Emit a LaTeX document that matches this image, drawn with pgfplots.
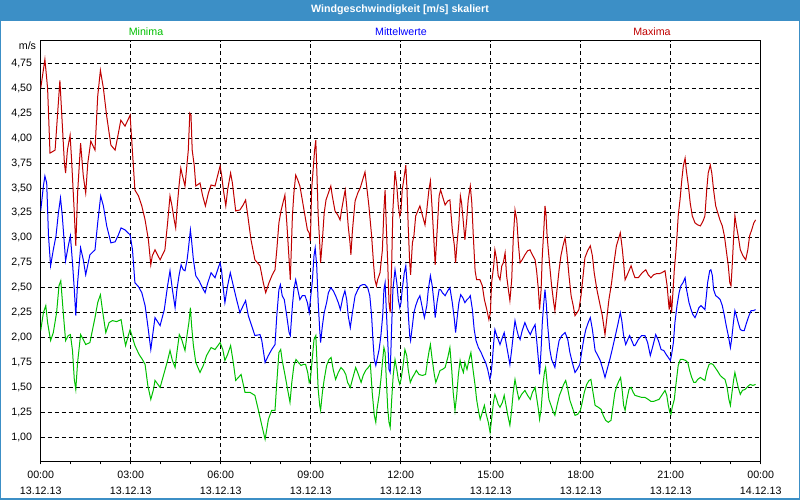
\documentclass[border=0pt]{standalone}
\usepackage{fontspec}
\setmainfont{Liberation Sans}
\usepackage{pgfplots}
\pgfplotsset{compat=1.18}
\usepackage{pgfplotstable}

\definecolor{titleblue}{HTML}{3C8FC6}
\definecolor{maxred}{HTML}{C00000}
\definecolor{mitblue}{HTML}{0000FF}
\definecolor{mingreen}{HTML}{00C000}

% Stunde  Wert
\pgfplotstableread{
h v
0.00 4.50
0.14 4.79
0.23 4.50
0.31 3.85
0.48 3.88
0.64 4.58
0.79 3.75
0.83 3.65
0.89 3.88
0.98 4.03
1.03 3.78
1.12 3.25
1.17 2.92
1.23 3.45
1.33 3.95
1.42 3.62
1.50 3.45
1.57 3.75
1.67 3.97
1.81 3.88
1.90 4.42
1.99 4.68
2.09 4.50
2.20 4.22
2.34 3.93
2.48 3.88
2.59 4.05
2.67 4.18
2.81 4.12
2.98 4.23
3.03 4.00
3.14 3.48
3.26 3.42
3.37 3.32
3.48 3.18
3.59 2.98
3.67 2.73
3.72 2.82
3.81 2.88
3.98 2.78
4.14 2.88
4.23 3.15
4.31 3.42
4.37 3.33
4.45 3.18
4.50 3.10
4.54 3.28
4.61 3.52
4.67 3.70
4.72 3.63
4.81 3.52
4.88 3.75
4.92 3.88
4.97 4.25
5.01 4.23
5.05 3.88
5.12 3.72
5.17 3.52
5.31 3.55
5.40 3.42
5.49 3.32
5.59 3.45
5.68 3.53
5.81 3.52
5.92 3.65
5.98 3.72
6.03 3.63
6.09 3.48
6.17 3.32
6.23 3.48
6.33 3.65
6.39 3.55
6.50 3.27
6.64 3.28
6.75 3.33
6.83 3.38
6.90 3.23
7.01 2.98
7.14 2.78
7.31 2.72
7.42 2.55
7.50 2.45
7.61 2.55
7.72 2.63
7.81 2.68
7.87 2.88
7.94 3.15
8.01 3.27
8.09 3.37
8.14 3.43
8.21 3.12
8.28 2.78
8.32 2.58
8.39 3.22
8.44 3.45
8.50 3.63
8.57 3.58
8.64 3.52
8.72 3.38
8.81 3.22
8.89 3.08
8.95 3.05
8.99 2.97
9.03 3.48
9.09 3.72
9.13 3.88
9.17 3.98
9.21 3.62
9.25 3.22
9.30 2.95
9.33 2.75
9.39 2.98
9.45 3.25
9.51 3.38
9.59 3.45
9.67 3.52
9.72 3.42
9.81 3.27
9.90 3.23
9.98 3.18
10.03 3.28
10.10 3.40
10.15 3.48
10.20 3.32
10.25 3.12
10.31 2.95
10.34 2.83
10.39 3.07
10.48 3.37
10.57 3.45
10.65 3.50
10.73 3.58
10.81 3.66
10.88 3.48
10.94 3.32
11.03 3.02
11.10 2.72
11.14 2.58
11.19 2.52
11.23 2.58
11.31 2.65
11.39 2.88
11.44 3.28
11.48 3.48
11.52 3.12
11.57 2.72
11.61 2.35
11.65 2.25
11.70 2.75
11.74 3.28
11.81 3.67
11.87 3.52
11.92 3.32
11.97 3.22
12.01 3.28
12.05 3.48
12.12 3.62
12.17 3.73
12.21 3.48
12.25 3.12
12.30 2.75
12.33 2.63
12.39 2.95
12.44 3.02
12.50 3.22
12.57 3.27
12.64 3.32
12.72 3.23
12.81 3.13
12.87 3.28
12.94 3.48
12.99 3.57
13.05 3.28
13.11 2.95
13.15 2.73
13.21 3.05
13.28 3.42
13.33 3.48
13.39 3.42
13.48 3.33
13.57 3.37
13.64 3.38
13.72 3.08
13.79 2.92
13.83 2.75
13.88 2.95
13.94 3.15
13.99 3.42
14.03 3.35
14.09 3.15
14.14 2.98
14.20 3.18
14.25 3.38
14.32 3.52
14.37 3.35
14.42 3.02
14.48 2.67
14.53 2.58
14.64 2.58
14.72 2.52
14.79 2.38
14.87 2.28
14.94 2.18
14.99 2.25
15.03 2.55
15.10 2.72
15.14 2.88
15.20 2.78
15.25 2.62
15.31 2.58
15.37 2.72
15.42 2.75
15.48 2.85
15.53 2.62
15.59 2.48
15.64 2.37
15.70 2.58
15.75 2.98
15.81 3.28
15.87 3.18
15.92 2.95
15.98 2.75
16.05 2.78
16.14 2.83
16.23 2.87
16.31 2.88
16.39 2.83
16.48 2.78
16.53 2.67
16.59 2.48
16.63 2.28
16.68 2.48
16.72 2.82
16.77 3.08
16.81 3.32
16.84 3.25
16.88 3.02
16.92 2.88
16.98 2.68
17.03 2.52
17.10 2.35
17.14 2.27
17.21 2.48
17.28 2.68
17.34 2.82
17.41 2.92
17.48 3.00
17.54 2.85
17.61 2.62
17.68 2.42
17.75 2.32
17.81 2.22
17.88 2.25
17.94 2.28
18.01 2.42
18.08 2.62
18.14 2.80
18.23 2.87
18.32 2.92
18.39 2.82
18.45 2.65
18.54 2.48
18.63 2.35
18.72 2.22
18.81 2.03
18.88 2.22
18.94 2.38
19.03 2.55
19.11 2.75
19.19 2.92
19.25 2.98
19.32 3.05
19.39 2.88
19.43 2.75
19.48 2.58
19.54 2.62
19.61 2.67
19.68 2.72
19.75 2.65
19.81 2.60
19.92 2.60
20.05 2.65
20.17 2.68
20.25 2.63
20.34 2.60
20.43 2.63
20.52 2.64
20.61 2.64
20.70 2.65
20.81 2.67
20.88 2.52
20.92 2.38
20.95 2.28
20.99 2.42
21.03 2.25
21.08 2.48
21.12 2.68
21.17 2.85
21.21 3.02
21.25 3.22
21.31 3.38
21.37 3.58
21.42 3.72
21.48 3.80
21.52 3.68
21.59 3.52
21.65 3.35
21.72 3.22
21.81 3.15
21.90 3.13
21.99 3.12
22.08 3.17
22.14 3.22
22.20 3.48
22.25 3.65
22.32 3.73
22.37 3.65
22.43 3.48
22.50 3.32
22.57 3.25
22.64 3.18
22.72 3.12
22.79 3.02
22.85 2.88
22.92 2.72
22.97 2.55
23.01 2.52
23.05 2.72
23.10 3.02
23.14 3.22
23.19 3.12
23.25 3.02
23.32 2.88
23.41 2.82
23.50 2.78
23.57 2.88
23.63 3.02
23.70 3.08
23.77 3.15
23.83 3.18
}\maxima

\pgfplotstableread{
h v
0.00 3.27
0.09 3.52
0.14 3.62
0.20 3.55
0.26 3.02
0.33 2.72
0.42 2.88
0.51 3.02
0.59 3.25
0.66 3.40
0.72 3.22
0.83 2.77
0.92 2.92
0.99 3.02
1.06 2.75
1.12 2.48
1.17 2.22
1.23 2.55
1.33 2.90
1.42 2.78
1.50 2.63
1.64 2.83
1.81 2.88
1.90 3.15
2.00 3.42
2.09 3.32
2.20 3.12
2.34 2.95
2.48 2.96
2.59 3.03
2.68 3.10
2.81 3.08
2.98 3.03
3.06 2.88
3.14 2.55
3.26 2.51
3.37 2.45
3.48 2.32
3.57 2.12
3.67 1.88
3.73 2.02
3.81 2.20
3.98 2.12
4.12 2.28
4.23 2.52
4.31 2.67
4.39 2.48
4.48 2.30
4.54 2.48
4.61 2.62
4.68 2.73
4.75 2.68
4.81 2.67
4.88 2.78
4.92 2.88
4.99 3.08
5.03 2.97
5.09 2.78
5.17 2.62
5.28 2.57
5.39 2.50
5.48 2.45
5.57 2.55
5.68 2.65
5.81 2.60
5.92 2.70
5.98 2.75
6.03 2.67
6.09 2.48
6.14 2.35
6.23 2.52
6.32 2.65
6.42 2.52
6.53 2.38
6.64 2.25
6.75 2.32
6.83 2.37
6.92 2.22
7.03 2.12
7.14 2.02
7.31 2.03
7.37 1.97
7.48 1.75
7.59 1.82
7.70 1.88
7.81 1.93
7.87 2.22
7.94 2.48
7.99 2.53
8.05 2.42
8.12 2.38
8.20 2.22
8.28 2.05
8.32 2.02
8.39 2.32
8.44 2.48
8.50 2.58
8.57 2.48
8.64 2.38
8.72 2.42
8.81 2.42
8.89 2.35
8.95 2.25
8.99 2.38
9.05 2.55
9.11 2.82
9.15 2.90
9.20 2.72
9.25 2.35
9.30 2.08
9.33 1.95
9.39 2.12
9.45 2.25
9.53 2.35
9.59 2.45
9.67 2.50
9.75 2.47
9.83 2.42
9.92 2.35
9.99 2.28
10.07 2.40
10.14 2.47
10.20 2.38
10.25 2.22
10.32 2.10
10.39 2.25
10.48 2.42
10.57 2.48
10.65 2.52
10.73 2.53
10.81 2.53
10.90 2.50
10.97 2.42
11.03 2.22
11.08 1.95
11.12 1.78
11.17 1.72
11.21 1.78
11.28 1.88
11.34 2.02
11.40 2.22
11.44 2.48
11.48 2.55
11.52 2.28
11.57 1.95
11.61 1.68
11.65 1.65
11.70 2.12
11.74 2.48
11.81 2.68
11.87 2.55
11.92 2.38
11.97 2.30
12.01 2.35
12.05 2.48
12.12 2.65
12.17 2.72
12.21 2.55
12.25 2.25
12.30 2.02
12.33 1.97
12.39 2.12
12.44 2.25
12.50 2.32
12.57 2.38
12.64 2.42
12.72 2.30
12.79 2.20
12.87 2.32
12.92 2.48
12.99 2.62
13.05 2.52
13.11 2.35
13.15 2.20
13.21 2.35
13.28 2.48
13.33 2.48
13.39 2.45
13.48 2.42
13.57 2.47
13.64 2.50
13.72 2.35
13.79 2.18
13.83 2.05
13.89 2.22
13.94 2.35
14.00 2.43
14.07 2.40
14.14 2.35
14.21 2.38
14.28 2.40
14.32 2.42
14.39 2.28
14.45 2.08
14.51 1.97
14.59 1.90
14.68 1.85
14.75 1.80
14.83 1.75
14.90 1.68
14.97 1.58
15.01 1.63
15.05 1.75
15.10 1.95
15.14 2.08
15.20 2.02
15.25 1.98
15.31 1.93
15.39 2.00
15.45 2.05
15.51 1.95
15.57 1.85
15.64 1.73
15.70 1.88
15.75 2.02
15.81 2.17
15.87 2.08
15.92 2.02
15.98 1.98
16.05 2.07
16.14 2.15
16.23 2.08
16.32 2.03
16.39 2.08
16.48 2.13
16.53 1.98
16.59 1.78
16.63 1.63
16.68 1.88
16.72 2.15
16.77 2.35
16.81 2.48
16.85 2.35
16.90 2.12
16.97 1.88
17.03 1.78
17.10 1.73
17.14 1.70
17.21 1.85
17.28 1.97
17.37 2.02
17.48 2.05
17.57 1.98
17.64 1.85
17.72 1.75
17.81 1.65
17.88 1.68
17.97 1.73
18.03 1.85
18.10 1.98
18.17 2.08
18.25 2.15
18.32 2.20
18.39 2.08
18.48 1.87
18.57 1.82
18.65 1.77
18.74 1.68
18.81 1.60
18.88 1.68
18.97 1.78
19.05 1.88
19.14 2.00
19.23 2.12
19.32 2.25
19.37 2.17
19.43 2.02
19.50 1.93
19.57 1.98
19.63 2.02
19.70 1.97
19.77 1.92
19.81 1.92
19.92 1.98
20.03 2.02
20.14 2.02
20.23 1.95
20.32 1.82
20.41 1.92
20.50 2.03
20.59 1.97
20.68 1.88
20.77 1.87
20.85 1.83
20.92 1.80
20.99 1.77
21.03 1.83
21.09 1.95
21.14 2.15
21.21 2.32
21.28 2.45
21.34 2.52
21.41 2.55
21.48 2.60
21.53 2.48
21.61 2.35
21.68 2.28
21.74 2.23
21.81 2.20
21.88 2.25
21.94 2.30
22.01 2.32
22.08 2.30
22.14 2.28
22.19 2.42
22.23 2.55
22.30 2.67
22.34 2.68
22.39 2.62
22.43 2.48
22.50 2.42
22.59 2.40
22.65 2.38
22.72 2.32
22.79 2.22
22.85 2.12
22.92 2.02
22.99 1.90
23.03 1.98
23.09 2.15
23.14 2.27
23.19 2.22
23.25 2.15
23.32 2.08
23.39 2.07
23.45 2.07
23.53 2.15
23.61 2.22
23.68 2.27
23.75 2.27
23.83 2.28
}\mittel

\pgfplotstableread{
h v
0.00 2.07
0.09 2.25
0.17 2.32
0.23 2.15
0.33 1.97
0.42 2.05
0.53 2.25
0.61 2.52
0.67 2.57
0.76 2.22
0.83 1.97
0.92 2.02
0.99 2.03
1.06 1.87
1.12 1.58
1.17 1.48
1.23 1.75
1.33 2.03
1.42 1.98
1.50 1.93
1.64 1.95
1.81 2.20
1.90 2.35
1.99 2.43
2.07 2.25
2.17 2.05
2.28 2.15
2.39 2.17
2.53 2.16
2.68 2.18
2.76 2.03
2.83 1.92
2.92 2.02
2.98 2.08
3.06 2.00
3.14 1.92
3.28 1.83
3.39 1.78
3.48 1.73
3.57 1.52
3.67 1.38
3.76 1.48
3.81 1.57
3.98 1.50
4.12 1.65
4.23 1.77
4.31 1.87
4.39 1.77
4.48 1.70
4.54 1.85
4.62 2.03
4.70 1.98
4.81 1.87
4.88 2.03
4.94 2.15
4.99 2.30
5.03 2.12
5.09 1.92
5.17 1.75
5.31 1.65
5.42 1.72
5.53 1.82
5.68 1.90
5.81 1.88
5.98 1.95
6.07 1.88
6.14 1.77
6.23 1.83
6.33 1.92
6.42 1.75
6.50 1.57
6.59 1.60
6.68 1.63
6.81 1.45
6.98 1.45
7.14 1.42
7.25 1.28
7.37 1.12
7.48 0.98
7.59 1.18
7.70 1.27
7.81 1.27
7.87 1.55
7.94 1.85
8.00 1.88
8.05 1.77
8.14 1.63
8.23 1.48
8.31 1.35
8.37 1.55
8.44 1.72
8.51 1.78
8.59 1.75
8.68 1.72
8.75 1.73
8.83 1.73
8.90 1.65
8.95 1.55
8.99 1.58
9.05 1.78
9.11 1.98
9.17 2.02
9.21 1.75
9.25 1.48
9.30 1.32
9.33 1.27
9.39 1.45
9.45 1.58
9.53 1.72
9.61 1.78
9.68 1.80
9.75 1.68
9.83 1.58
9.92 1.65
10.01 1.70
10.10 1.67
10.17 1.63
10.23 1.55
10.32 1.50
10.39 1.58
10.50 1.70
10.59 1.63
10.68 1.55
10.75 1.62
10.83 1.67
10.92 1.70
10.99 1.73
11.05 1.45
11.12 1.22
11.17 1.15
11.21 1.28
11.28 1.42
11.34 1.58
11.40 1.78
11.44 1.90
11.48 1.85
11.52 1.58
11.57 1.28
11.61 1.15
11.65 1.10
11.70 1.38
11.75 1.62
11.81 1.78
11.87 1.68
11.92 1.58
11.97 1.53
12.01 1.58
12.08 1.72
12.14 1.88
12.20 1.82
12.25 1.68
12.32 1.55
12.39 1.60
12.45 1.63
12.52 1.67
12.61 1.63
12.72 1.62
12.83 1.63
12.90 1.78
12.95 1.87
12.99 1.93
13.05 1.78
13.12 1.63
13.17 1.55
13.23 1.60
13.31 1.67
13.39 1.68
13.48 1.70
13.57 1.80
13.64 1.90
13.70 1.68
13.75 1.45
13.81 1.27
13.87 1.43
13.92 1.62
13.98 1.77
14.03 1.70
14.09 1.65
14.14 1.75
14.21 1.68
14.28 1.78
14.34 1.85
14.41 1.68
14.48 1.52
14.53 1.38
14.59 1.27
14.65 1.18
14.72 1.25
14.79 1.32
14.85 1.23
14.92 1.15
14.98 1.05
15.03 1.18
15.09 1.35
15.14 1.43
15.20 1.38
15.25 1.33
15.31 1.30
15.39 1.35
15.45 1.42
15.51 1.32
15.57 1.22
15.64 1.12
15.70 1.28
15.75 1.45
15.81 1.58
15.87 1.48
15.94 1.38
16.03 1.43
16.14 1.47
16.23 1.42
16.32 1.38
16.39 1.45
16.48 1.50
16.54 1.38
16.59 1.28
16.63 1.18
16.68 1.28
16.74 1.52
16.79 1.65
16.83 1.70
16.88 1.55
16.94 1.38
17.01 1.32
17.09 1.25
17.14 1.22
17.21 1.32
17.29 1.42
17.37 1.48
17.43 1.53
17.50 1.57
17.57 1.48
17.64 1.37
17.72 1.30
17.81 1.22
17.90 1.23
17.99 1.27
18.05 1.35
18.12 1.45
18.20 1.53
18.28 1.57
18.34 1.58
18.41 1.45
18.48 1.32
18.59 1.30
18.68 1.28
18.75 1.22
18.83 1.17
18.92 1.15
19.01 1.17
19.08 1.32
19.14 1.45
19.21 1.52
19.28 1.57
19.33 1.60
19.39 1.45
19.43 1.32
19.48 1.27
19.54 1.38
19.61 1.48
19.68 1.50
19.75 1.45
19.81 1.42
19.92 1.41
20.03 1.40
20.14 1.40
20.25 1.38
20.34 1.36
20.43 1.36
20.52 1.37
20.61 1.38
20.70 1.42
20.81 1.47
20.87 1.42
20.92 1.32
20.97 1.25
21.01 1.23
21.05 1.30
21.12 1.38
21.17 1.52
21.21 1.62
21.25 1.72
21.32 1.78
21.41 1.78
21.50 1.77
21.57 1.75
21.63 1.67
21.70 1.60
21.77 1.55
21.83 1.55
21.90 1.58
21.99 1.60
22.08 1.58
22.14 1.57
22.21 1.67
22.28 1.73
22.34 1.74
22.41 1.73
22.48 1.70
22.57 1.66
22.65 1.62
22.72 1.60
22.81 1.58
22.88 1.50
22.94 1.38
22.99 1.32
23.03 1.42
23.10 1.58
23.14 1.65
23.19 1.58
23.25 1.50
23.32 1.43
23.39 1.47
23.48 1.48
23.57 1.51
23.65 1.53
23.74 1.52
23.83 1.53
}\minima

\begin{document}
\begin{tikzpicture}[font=\fontsize{8}{10}\selectfont]
  % Fenster: 800x500 px, 1 px = 0.75 pt
  \useasboundingbox (0,0) rectangle (600pt,375pt);
  \fill[titleblue] (0,0) rectangle (600pt,375pt);
  \fill[white] (0.75pt,1.5pt) rectangle (599.25pt,359.5pt);
  \node[text=white, font=\fontsize{8}{10}\selectfont\bfseries] at (300pt,367.4pt) {Windgeschwindigkeit [m/s] skaliert};

  \node[text=mingreen] at (109.5pt,351.5pt) {Minima};
  \node[text=mitblue] at (300.75pt,351.5pt) {Mittelwerte};
  \node[text=maxred] at (489pt,351.5pt) {Maxima};
  \node at (20.6pt,340.5pt) {m/s};

  \begin{axis}[
    at={(30.525pt,29.25pt)}, anchor=south west,
    scale only axis,
    width=540pt, height=315.2pt,
    xmin=0, xmax=24,
    ymin=0.762, ymax=4.977,
    axis line style={black, line width=0.75pt},
    xtick={0,3,...,24},
    minor x tick num=2,
    xtick pos=bottom,
    tick align=outside,
    major tick length=2.5pt, minor tick length=2.5pt,
    tick style={black, line width=0.75pt},
    xticklabels={00:00\\13.12.13, 03:00\\13.12.13, 06:00\\13.12.13,
      09:00\\13.12.13, 12:00\\13.12.13, 15:00\\13.12.13, 18:00\\13.12.13,
      21:00\\13.12.13, 00:00\\14.12.13},
    xticklabel style={align=center, inner sep=0pt, yshift=-5pt,
      font=\fontsize{8}{12}\selectfont},
    ytick={1.00,1.25,1.50,1.75,2.00,2.25,2.50,2.75,3.00,3.25,3.50,3.75,4.00,4.25,4.50,4.75},
    ytick style={draw=none},
    yticklabel style={inner sep=0pt, xshift=-3.75pt,
      /pgf/number format/.cd, fixed, fixed zerofill, precision=2, use comma,
      assume math mode=true},
    grid=major,
    major grid style={black, line width=0.75pt, dash pattern=on 3pt off 2.25pt},
    minor grid style={draw=none},
  ]
    \addplot[mingreen, line width=0.75pt] table[x=h, y=v] {\minima};
    \addplot[mitblue, line width=0.75pt] table[x=h, y=v] {\mittel};
    \addplot[maxred, line width=0.75pt] table[x=h, y=v] {\maxima};
  \end{axis}
\end{tikzpicture}
\end{document}
